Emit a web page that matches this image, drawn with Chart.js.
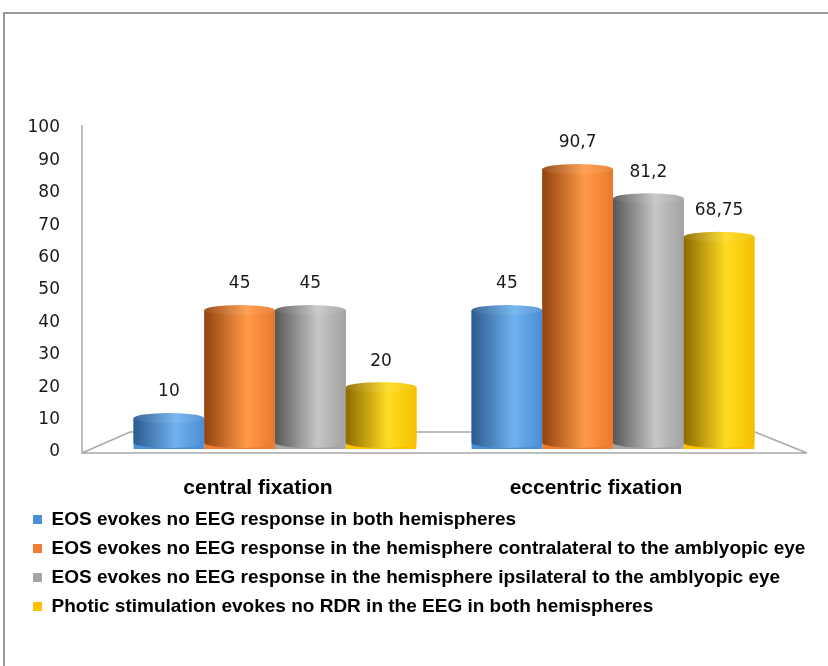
<!DOCTYPE html>
<html>
<head>
<meta charset="utf-8">
<script src="https://cdn.jsdelivr.net/npm/chart.js@4"></script>
<style>
  html, body { margin: 0; padding: 0; background: #fff; overflow: hidden; }
  #marco { position: absolute; left: 3px; top: 12px; width: 900px; height: 700px;
           border-left: 2px solid #9a9a9a; border-top: 2px solid #9a9a9a; }
  #wrap { position: absolute; left: 0; top: 0; width: 828px; height: 666px; }
</style>
</head>
<body>
<div id="marco"></div>
<div id="wrap"><canvas id="fijacion"></canvas></div>
<script>
// datos
const categorias = ['central fixation', 'eccentric fixation'];
const series = [
  'EOS evokes no EEG response in both hemispheres',
  'EOS evokes no EEG response in the hemisphere contralateral to the amblyopic eye',
  'EOS evokes no EEG response in the hemisphere ipsilateral to the amblyopic eye',
  'Photic stimulation evokes no RDR in the EEG in both hemispheres'
];
const sinRespuestaAmbos = [10, 45];
const sinRespuestaContra = [45, 90.7];
const sinRespuestaIpsi = [45, 81.2];
const fotica = [20, 68.75];
const ticksY = [0, 10, 20, 30, 40, 50, 60, 70, 80, 90, 100];

// colores: [leyenda, borde oscuro, brillo, lado derecho]
const colores = [
  ['#4a8fd8', '#2b5a8e', '#6fb2f0', '#4b8dd3'],
  ['#ef7d31', '#93420f', '#ff9a48', '#e9792c'],
  ['#a5a5a5', '#575757', '#c6c6c6', '#a2a2a2'],
  ['#ffc000', '#8c6a00', '#ffdc22', '#f3bf00']
];
const valores = [sinRespuestaAmbos, sinRespuestaContra, sinRespuestaIpsi, fotica];

// piso y eje en "3D"
const piso3d = {
  id: 'piso3d',
  beforeDatasetsDraw(chart) {
    const a = chart.chartArea;
    const c = chart.ctx;
    c.save();
    c.strokeStyle = '#a8a8a8';
    c.lineWidth = 1.5;
    c.beginPath();
    c.moveTo(a.left - 24, a.top - 3);
    c.lineTo(a.left - 24, a.bottom + 1);
    c.lineTo(a.right + 25, a.bottom + 1);
    c.moveTo(a.left - 24, a.bottom + 1);
    c.lineTo(a.left + 24, a.bottom - 20);
    c.lineTo(a.right - 27, a.bottom - 20);
    c.lineTo(a.right + 25, a.bottom + 1);
    c.stroke();
    c.restore();
  }
};

// cilindros y etiquetas de valor
const cilindros = {
  id: 'cilindros',
  afterDatasetsDraw(chart) {
    const c = chart.ctx;
    c.save();
    chart.data.datasets.forEach((ds, i) => {
      const col = colores[i];
      chart.getDatasetMeta(i).data.forEach((bar, j) => {
        const p = bar.getProps(['x', 'y', 'base', 'width'], true);
        const x0 = p.x - p.width / 2, x1 = p.x + p.width / 2;
        const rx = p.width / 2, ry = 5;
        const base = p.base - 6;
        const g = c.createLinearGradient(x0, 0, x1, 0);
        g.addColorStop(0, col[1]);
        g.addColorStop(0.6, col[2]);
        g.addColorStop(1, col[3]);
        c.fillStyle = g;
        c.beginPath();
        c.moveTo(x0, p.y);
        c.lineTo(x0, base);
        c.ellipse(p.x, base, rx, ry, 0, Math.PI, 0, true);
        c.lineTo(x1, p.y);
        c.ellipse(p.x, p.y, rx, ry, 0, 0, Math.PI, true);
        c.closePath();
        c.fill();
        c.fillStyle = 'rgba(255,255,255,0.08)';
        c.beginPath();
        c.ellipse(p.x, p.y, rx, ry, 0, 0, Math.PI * 2);
        c.fill();

        c.fillStyle = '#1a1a1a';
        c.font = '17px "DejaVu Sans"';
        c.textAlign = 'center';
        c.textBaseline = 'middle';
        c.fillText(String(ds.data[j]).replace('.', ','), p.x, p.y - 26);
      });
    });
    c.restore();
  }
};

const ctx = document.getElementById('fijacion').getContext('2d');
const chart_fijacion = new Chart(ctx, {
  type: 'bar',
  data: {
    labels: categorias,
    datasets: series.map((s, i) => ({
      label: s,
      data: valores[i],
      yAxisID: 'yBarras',
      backgroundColor: colores[i][0],
      borderWidth: 0,
      barPercentage: 1,
      categoryPercentage: 0.837
    }))
  },
  options: {
    responsive: true,
    maintainAspectRatio: false,
    animation: false,
    layout: { padding: { left: 23, right: 0, top: 128, bottom: 40 } },
    scales: {
      x: {
        grid: { display: false, drawTicks: false },
        border: { display: false },
        ticks: {
          color: '#000',
          padding: 26,
          labelOffset: -17,
          font: { family: '"Liberation Sans", Arial', size: 21, weight: 'bold', lineHeight: 1 }
        },
        afterFit: s => { s.height = 48; }
      },
      y: {
        position: 'left',
        min: 0,
        max: 100,
        afterBuildTicks: s => { s.ticks = ticksY.map(v => ({ value: v })); },
        grid: { display: false, drawTicks: false },
        border: { display: false },
        ticks: {
          color: '#1a1a1a',
          padding: 46,
          font: { family: '"DejaVu Sans"', size: 17 }
        },
        afterFit: s => { s.width = 83; }
      },
      // eje oculto de las barras (perspectiva del grafico 3D)
      yBarras: {
        display: false,
        position: 'left',
        min: -1,
        max: 104
      },
      // solo reserva el margen derecho del area del grafico
      yMargen: {
        position: 'right',
        grid: { display: false, drawTicks: false },
        border: { display: false },
        ticks: { display: false },
        afterFit: s => { s.width = 46; }
      }
    },
    plugins: {
      title: { display: false },
      tooltip: { enabled: false },
      legend: {
        display: true,
        position: 'bottom',
        align: 'start',
        labels: {
          color: '#000',
          boxWidth: 9,
          boxHeight: 9,
          padding: 10,
          font: { family: '"Liberation Sans", Arial', size: 19, weight: 'bold' }
        }
      }
    }
  },
  plugins: [piso3d, cilindros]
});
</script>
</body>
</html>
